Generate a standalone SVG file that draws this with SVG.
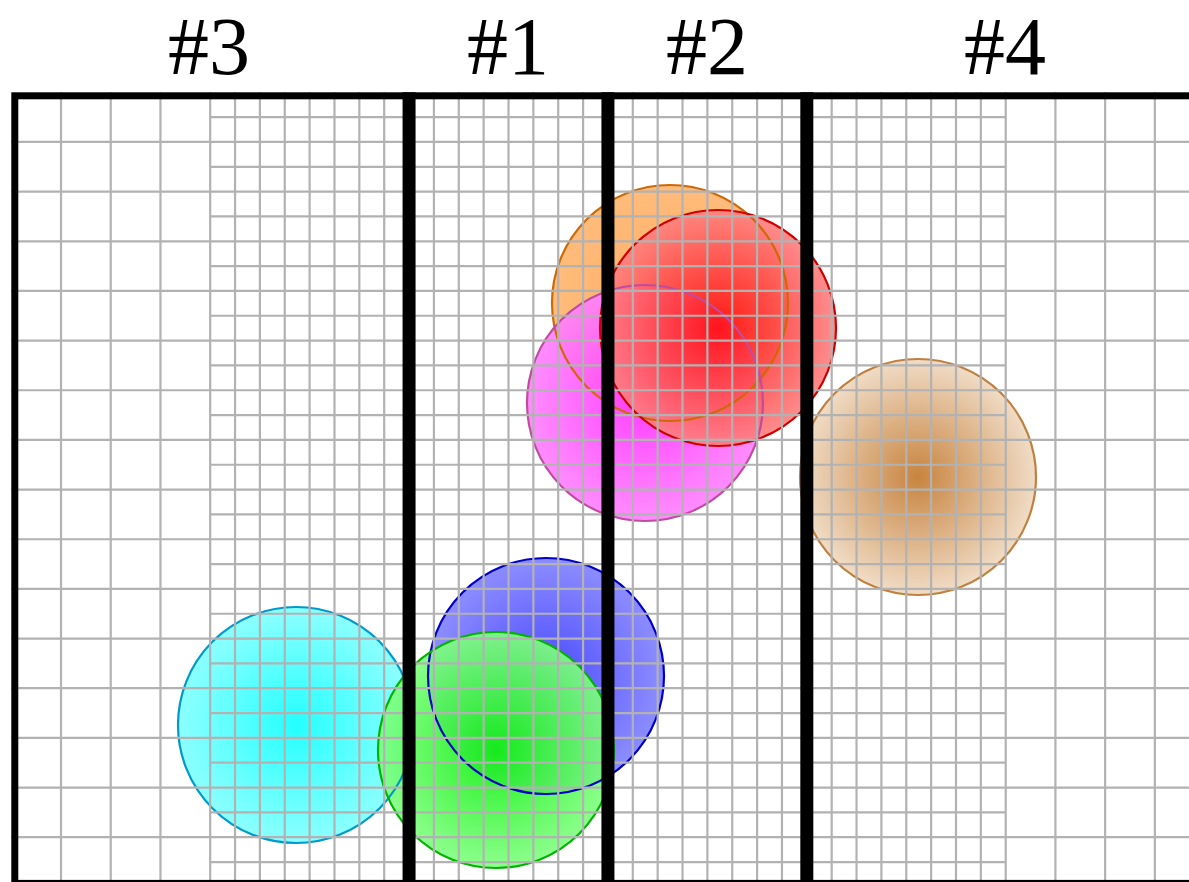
<svg xmlns="http://www.w3.org/2000/svg" width="1189" height="882" viewBox="0 0 1189 882">
<style>
.lbl{font-family:"Liberation Serif","Times New Roman",serif;font-size:82px;fill:#000;text-anchor:middle}
.grid{fill:none;stroke:#b2b2b2;stroke-width:2.2}
.div{stroke:#000;stroke-width:13}
.o{fill:none;stroke-width:2.2}
</style>
<defs>
<radialGradient id="gOrange"><stop offset="0" stop-color="#ffa655" stop-opacity="0.92"/><stop offset="1" stop-color="#ffb670" stop-opacity="0.92"/></radialGradient>
<radialGradient id="gRed"><stop offset="0" stop-color="#ff0a0a" stop-opacity="0.92"/><stop offset="1" stop-color="#ff8080" stop-opacity="0.9"/></radialGradient>
<radialGradient id="gMag"><stop offset="0" stop-color="#ff30ff" stop-opacity="0.92"/><stop offset="1" stop-color="#ff80ff" stop-opacity="0.9"/></radialGradient>
<radialGradient id="gTan"><stop offset="0" stop-color="#c8843f"/><stop offset="1" stop-color="#f0dcc6"/></radialGradient>
<radialGradient id="gCyan"><stop offset="0" stop-color="#18ffff" stop-opacity="0.95"/><stop offset="1" stop-color="#80ffff" stop-opacity="0.9"/></radialGradient>
<radialGradient id="gBlue"><stop offset="0" stop-color="#3a3aff" stop-opacity="0.92"/><stop offset="1" stop-color="#8080ff" stop-opacity="0.9"/></radialGradient>
<radialGradient id="gGreen"><stop offset="0" stop-color="#10f010" stop-opacity="0.95"/><stop offset="1" stop-color="#80ff80" stop-opacity="0.9"/></radialGradient>
</defs>
<rect width="1189" height="882" fill="#fff"/>
<g id="labels">
<text id="label-3" class="lbl" x="209" y="74">#3</text>
<text id="label-1" class="lbl" x="508" y="74">#1</text>
<text id="label-2" class="lbl" x="707" y="74">#2</text>
<text id="label-4" class="lbl" x="1005" y="74">#4</text>
</g>
<g id="circles">
<g id="orange"><circle cx="670" cy="303" r="118" fill="url(#gOrange)"/></g>
<g id="magenta"><circle cx="645" cy="403" r="118" fill="url(#gMag)"/></g>
<g id="red"><circle cx="718" cy="328" r="118" fill="url(#gRed)"/></g>
<g id="tan"><circle cx="918" cy="477" r="118" fill="url(#gTan)"/></g>
<g id="cyan"><circle cx="296" cy="725" r="118" fill="url(#gCyan)"/></g>
<g id="blue"><circle cx="546" cy="676" r="118" fill="url(#gBlue)"/></g>
<g id="green"><circle cx="496" cy="750" r="118" fill="url(#gGreen)"/></g>
</g>
<g id="outlines">
<circle class="o" cx="670" cy="303" r="118" stroke="#cc6a08"/>
<circle class="o" cx="645" cy="403" r="118" stroke="#c04ca0"/>
<circle class="o" cx="718" cy="328" r="118" stroke="#d00000"/>
<circle class="o" cx="918" cy="477" r="118" stroke="#c08040"/>
<circle class="o" cx="296" cy="725" r="118" stroke="#0099cc"/>
<circle class="o" cx="546" cy="676" r="118" stroke="#0000c8"/>
<circle class="o" cx="496" cy="750" r="118" stroke="#00b400"/>
</g>
<g id="grid" class="grid">
<path d="M61.02 92.3V886.86M110.74 92.3V886.86M160.46 92.3V886.86M210.18 92.3V886.86M235.04 92.3V886.86M259.9 92.3V886.86M284.76 92.3V886.86M309.62 92.3V886.86M334.48 92.3V886.86M359.34 92.3V886.86M384.2 92.3V886.86M433.92 92.3V886.86M458.78 92.3V886.86M483.64 92.3V886.86M508.5 92.3V886.86M533.36 92.3V886.86M558.22 92.3V886.86M583.08 92.3V886.86M632.8 92.3V886.86M657.66 92.3V886.86M682.52 92.3V886.86M707.38 92.3V886.86M732.24 92.3V886.86M757.1 92.3V886.86M781.96 92.3V886.86M831.68 92.3V886.86M856.54 92.3V886.86M881.4 92.3V886.86M906.26 92.3V886.86M931.12 92.3V886.86M955.98 92.3V886.86M980.84 92.3V886.86M1005.7 92.3V886.86M1055.42 92.3V886.86M1105.14 92.3V886.86M1154.86 92.3V886.86"/>
<path d="M11.3 141.96H1205M11.3 191.62H1205M11.3 241.28H1205M11.3 290.94H1205M11.3 340.6H1205M11.3 390.26H1205M11.3 439.92H1205M11.3 489.58H1205M11.3 539.24H1205M11.3 588.9H1205M11.3 638.56H1205M11.3 688.22H1205M11.3 737.88H1205M11.3 787.54H1205M11.3 837.2H1205"/>
<path d="M210.18 117.13H1005.7M210.18 166.79H1005.7M210.18 216.45H1005.7M210.18 266.11H1005.7M210.18 315.77H1005.7M210.18 365.43H1005.7M210.18 415.09H1005.7M210.18 464.75H1005.7M210.18 514.41H1005.7M210.18 564.07H1005.7M210.18 613.73H1005.7M210.18 663.39H1005.7M210.18 713.05H1005.7M210.18 762.71H1005.7M210.18 812.37H1005.7M210.18 862.03H1005.7"/>
</g>
<g id="frame">
<rect x="14.8" y="95.8" width="1186.3" height="787.6" fill="none" stroke="#000" stroke-width="7"/>
<line class="div" x1="409.06" y1="92.3" x2="409.06" y2="886.86"/>
<line class="div" x1="607.94" y1="92.3" x2="607.94" y2="886.86"/>
<line class="div" x1="806.82" y1="92.3" x2="806.82" y2="886.86"/>
</g>
</svg>
